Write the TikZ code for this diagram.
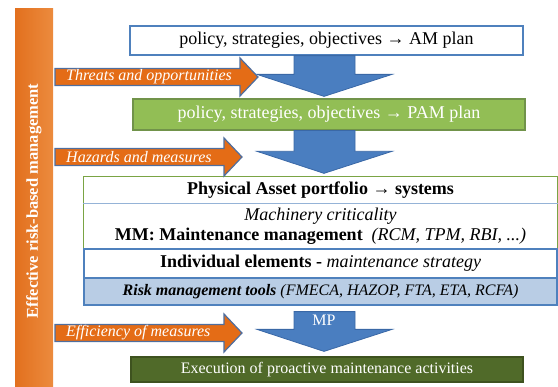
\documentclass[tikz,border=0pt]{standalone}
\usepackage{fontspec}
\setmainfont{Liberation Serif}
\usepackage{tikz}
\usetikzlibrary{calc}
\definecolor{barlight}{HTML}{EC8B3E}
\definecolor{bardark}{HTML}{E2701E}
\definecolor{sideorange}{HTML}{E46C16}
\definecolor{sideedge}{HTML}{4F6E9E}
\definecolor{flowblue}{HTML}{4A7EC0}
\definecolor{flowedge}{HTML}{3A68A6}
\definecolor{amblue}{HTML}{4F81BD}
\definecolor{pamgreen}{HTML}{92BE55}
\definecolor{pamedge}{HTML}{71934A}
\definecolor{execgreen}{HTML}{506A29}
\definecolor{execedge}{HTML}{3E521F}
\definecolor{framegreen}{HTML}{7AA444}
\definecolor{linelight}{HTML}{95B3D7}
\definecolor{toolsblue}{HTML}{B9CDE5}
\tikzset{
	% Box styles for the plan levels
	plan box/.style={draw=amblue,line width=1.3pt,minimum width=393,minimum height=29,inner sep=0,font=\fontsize{18}{20}\selectfont},
	pam box/.style={draw=pamedge,fill=pamgreen,text=white,line width=1.2pt,minimum width=392,minimum height=31,inner sep=0,font=\fontsize{18}{20}\selectfont},
	exec box/.style={draw=execedge,fill=execgreen,text=white,line width=1.2pt,minimum width=392,minimum height=25,inner sep=0,font=\fontsize{16}{18}\selectfont},
	% Rows of the maintenance block
	row/.style={minimum width=473,inner sep=0,line width=1.3pt,font=\fontsize{18}{20}\selectfont},
	% Arrows
	side arrow/.style={fill=sideorange,draw=sideedge,line width=1.2pt},
	arrow text/.style={anchor=west,text=white,inner sep=0,font=\fontsize{16}{18}\selectfont\itshape},
	down arrow/.style={fill=flowblue,draw=flowedge,line width=0.8pt},
	side bar/.style={rotate=90,left color=bardark,right color=barlight,minimum width=384,minimum height=38,inner sep=0,text=white,font=\fontsize{16.5}{18}\selectfont\bfseries}
}
\begin{document}
\begin{tikzpicture}[x=1pt,y=-1pt]
	% macro for the orange arrows coming from the left
	\newcommand{\sidearrow}[4]{% name, middle y, tip x, text
		\draw[side arrow] (55,{#2-8.5}) -- ({#3-18},{#2-8.5}) -- ({#3-18},{#2-19}) -- (#3,#2)
			-- ({#3-18},{#2+19}) -- ({#3-18},{#2+8.5}) -- (55,{#2+8.5}) -- cycle;
		\node[arrow text] (#1) at (66,#2) {#4};
	}
	% macro for the blue arrows going down
	\newcommand{\blockdown}[2]{% top of the shaft, tip
		\draw[down arrow] let \p1=(#1), \p2=(#2) in
			(294pt,\y1) -- (355pt,\y1) -- (355pt,{\y2+22pt}) -- (392pt,{\y2+22pt})
			-- (324pt,\y2) -- (257pt,{\y2+22pt}) -- (294pt,{\y2+22pt}) -- cycle;
	}
	\useasboundingbox (0,0) rectangle (558,387);

	\node[side bar] (bar) at (34,201) {Effective risk-based management};

	\node[plan box] (am) at (326.5,40.5) {policy, strategies, objectives → AM plan};
	\node[pam box] (pam) at (329,114.5) {policy, strategies, objectives → PAM plan};

	% maintenance block
	\node[row,minimum height=26] (phys) at (320.5,190) {\bfseries Physical Asset portfolio → systems};
	\node[row,minimum height=46,align=center] (mm) at (320.5,226)
		{\itshape Machinery criticality\\ \bfseries MM: Maintenance management\ \ \mdseries\itshape (RCM, TPM, RBI, ...)};
	\draw[framegreen,line width=1.4pt] (phys.north west) rectangle (mm.south east);
	\draw[linelight,line width=1pt] (phys.south west) -- (phys.south east);
	\node[row,draw=amblue,minimum height=29] (elem) at (320.5,263.5)
		{\bfseries Individual elements - \mdseries\itshape maintenance strategy};
	\node[row,draw=amblue,fill=toolsblue,minimum height=27,font=\fontsize{16}{18}\selectfont] (tools) at (320.5,291.5)
		{\bfseries\itshape Risk management tools \mdseries(FMECA, HAZOP, FTA, ETA, RCFA)};

	\node[exec box] (exec) at (327,369.5) {Execution of proactive maintenance activities};

	\blockdown{am.south}{$(pam.north)+(0,-2)$}
	\blockdown{pam.south}{$(phys.north)+(0,-3)$}
	\blockdown{$(tools.south)+(0,6)$}{$(exec.north)+(0,-5)$}
	\node[text=white,font=\fontsize{16}{18}\selectfont] (mp) at (324,320) {MP};

	\sidearrow{threats}{77}{258}{Threats and opportunities}
	\sidearrow{hazards}{157}{242}{Hazards and measures}
	\sidearrow{efficiency}{333}{242}{Efficiency of measures}
\end{tikzpicture}
\end{document}
